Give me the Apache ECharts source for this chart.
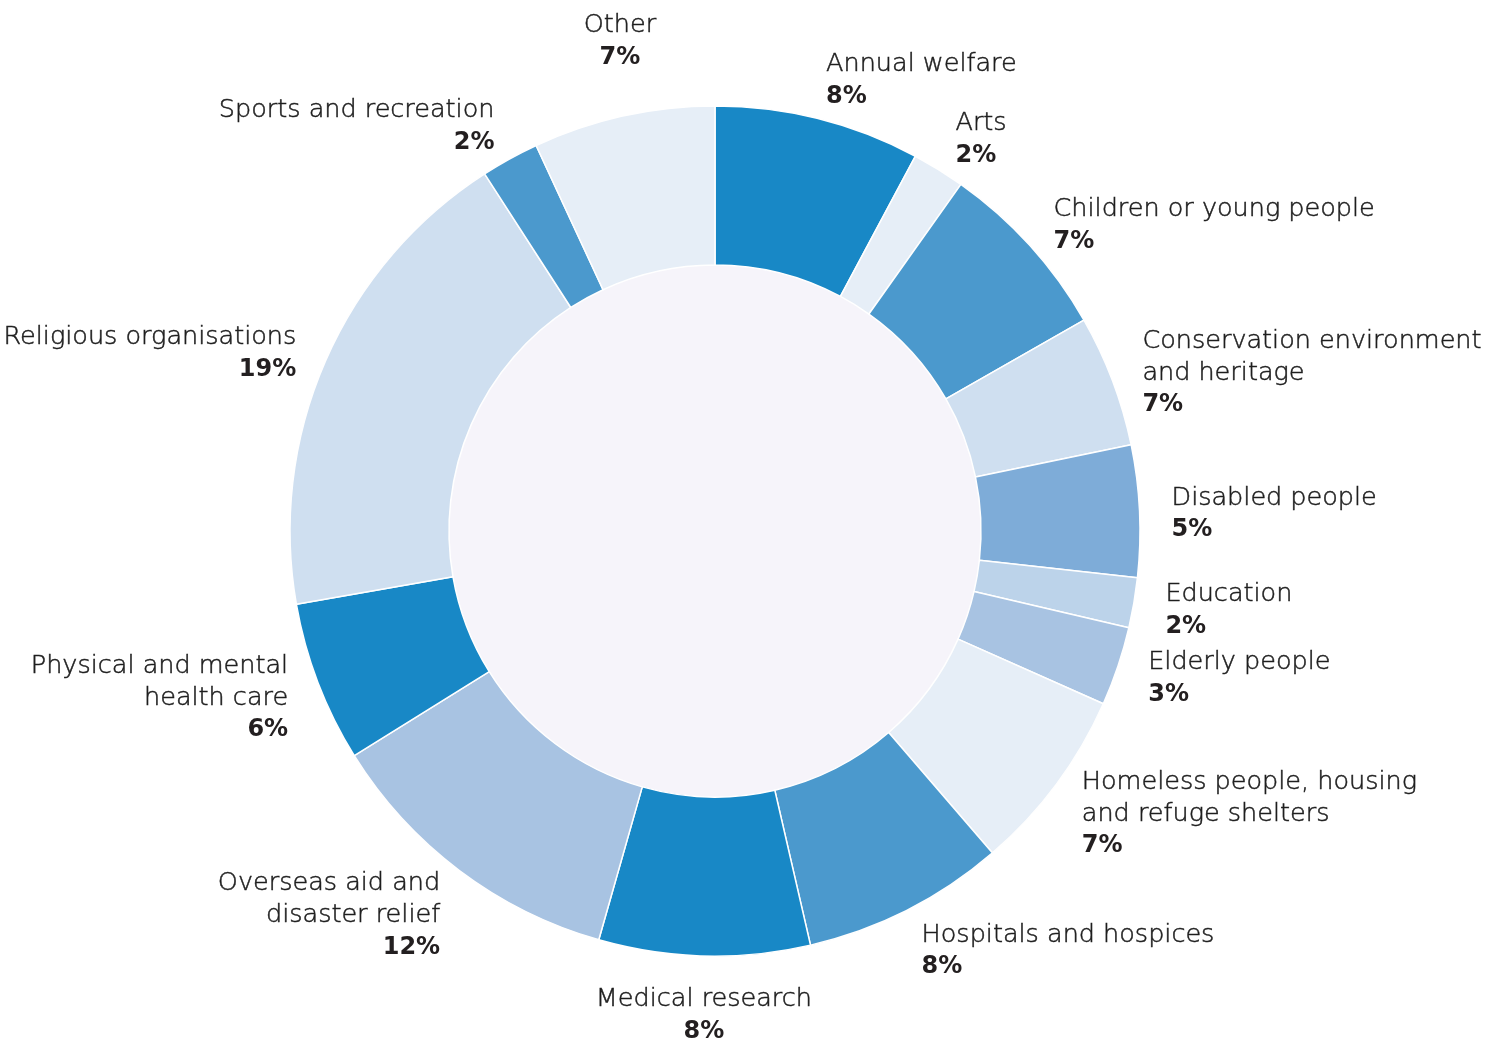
<!DOCTYPE html>
<html>
<head>
<meta charset="utf-8">
<script src="https://cdn.jsdelivr.net/npm/echarts@6/dist/echarts.min.js"></script>
<style>
  html, body { margin: 0; padding: 0; background: #ffffff; }
  #chart { width: 1500px; height: 1044px; }
</style>
</head>
<body>
<div id="chart"></div>
<script>
// ---- data ----
const categories = [
  'Annual welfare',
  'Arts',
  'Children or young people',
  'Conservation environment\nand heritage',
  'Disabled people',
  'Education',
  'Elderly people',
  'Homeless people, housing\nand refuge shelters',
  'Hospitals and hospices',
  'Medical research',
  'Overseas aid and\ndisaster relief',
  'Physical and mental\nhealth care',
  'Religious organisations',
  'Sports and recreation',
  'Other'
];
// slice sizes as drawn (share of the circle, %)
const shares = [7.8, 2.0, 6.9, 5.0, 5.0, 1.9, 3.0, 7.0, 7.7, 8.0, 11.7, 6.1, 18.6, 2.2, 6.9];
// percentage texts as printed on the chart
const percentLabels = ['8%', '2%', '7%', '7%', '5%', '2%', '3%', '7%', '8%', '8%', '12%', '6%', '19%', '2%', '7%'];

// ---- styles ----
const palette = [
  '#1888c6', '#e6eef7', '#4b99cd', '#cfdff0', '#7eacd8', '#bcd3ea', '#a8c3e2',
  '#e6eef7', '#4b99cd', '#1888c6', '#a8c3e2', '#1888c6', '#cfdff0', '#4b99cd', '#e6eef7'
];
const CX = 715, CY = 531, R_IN = 266, R_OUT = 425, LABEL_GAP = 16;
const FONT = '"DejaVu Sans", "Noto Sans", sans-serif';

const total = shares.reduce((a, b) => a + b, 0);
const midAngles = [];
(function () {
  let acc = 0;
  shares.forEach(v => { midAngles.push((acc + v / 2) / total * 2 * Math.PI); acc += v; });
})();

const chart = echarts.init(document.getElementById('chart'), null, { renderer: 'canvas' });

const option = {
  backgroundColor: '#ffffff',
  animation: false,
  series: [
    {
      type: 'pie',
      silent: true,
      center: [CX, CY],
      radius: [0, R_IN],
      label: { show: false },
      labelLine: { show: false },
      itemStyle: { color: '#f6f4fa', borderWidth: 0 },
      data: [{ value: 1, name: 'inner' }],
      z: 1
    },
    {
      type: 'pie',
      center: [CX, CY],
      radius: [R_IN, R_OUT],
      startAngle: 90,
      clockwise: true,
      avoidLabelOverlap: false,
      itemStyle: { borderColor: '#ffffff', borderWidth: 1.5 },
      labelLine: { show: false, length: 0, length2: 0 },
      label: {
        show: true,
        position: 'outside',
        overflow: 'none',
        fontFamily: FONT,
        formatter: p => '{n|' + p.name.split('\n').join('}\n{n|') + '}\n{p|' + percentLabels[p.dataIndex] + '}',
        rich: {
          n: {
            fontFamily: FONT, fontSize: 25.5, fontWeight: 200, lineHeight: 32, color: '#1e1e1e',
            textBorderColor: '#1e1e1e', textBorderWidth: 0.5
          },
          p: { fontFamily: FONT, fontSize: 24, fontWeight: 'bold', lineHeight: 32, color: '#231f20' }
        }
      },
      labelLayout: function (p) {
        const a = midAngles[p.dataIndex];
        const dx = Math.sin(a), dy = -Math.cos(a);
        const ax = CX + (R_OUT + LABEL_GAP) * dx;
        const ay = CY + (R_OUT + LABEL_GAP) * dy;
        const h = p.labelRect.height;
        let align, x, y;
        if (Math.abs(dx) < 0.23) {
          align = 'center';
          x = ax;
          y = ay + Math.sign(dy) * (h / 2 + (dy < 0 ? 30 : 15));
        } else {
          align = dx > 0 ? 'left' : 'right';
          x = ax + dx * 16;
          y = ay + h / 2 * dy * Math.abs(dy) + 4;
        }
        return { x: x, y: y, align: align, verticalAlign: 'middle' };
      },
      data: categories.map((c, i) => ({
        name: c,
        value: shares[i],
        itemStyle: { color: palette[i] }
      }))
    }
  ]
};

chart.setOption(option);
</script>
</body>
</html>
